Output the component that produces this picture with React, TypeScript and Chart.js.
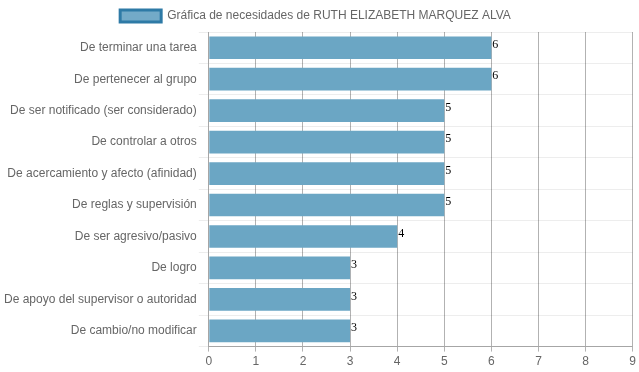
import React, { useEffect, useRef } from "react";
import { Chart, registerables } from "chart.js";

Chart.register(...registerables);

const categories = [
  "De terminar una tarea",
  "De pertenecer al grupo",
  "De ser notificado (ser considerado)",
  "De controlar a otros",
  "De acercamiento y afecto (afinidad)",
  "De reglas y supervisión",
  "De ser agresivo/pasivo",
  "De logro",
  "De apoyo del supervisor o autoridad",
  "De cambio/no modificar",
];
const values = [6, 6, 5, 5, 5, 5, 4, 3, 3, 3];
const seriesLabel = "Gráfica de necesidades de RUTH ELIZABETH MARQUEZ ALVA";
const xMin = 0;
const xMax = 9;

const valueLabels = {
  id: "valueLabels",
  afterDatasetsDraw(chart: any) {
    const ctx = chart.ctx;
    ctx.save();
    ctx.font = "12px 'Liberation Serif', serif";
    ctx.fillStyle = "#000";
    ctx.textAlign = "left";
    ctx.textBaseline = "bottom";
    const meta = chart.getDatasetMeta(0);
    meta.data.forEach((bar: any, i: number) => {
      ctx.fillText(String(chart.data.datasets[0].data[i]), bar.x + 1, bar.y + 3);
    });
    ctx.restore();
  },
};

export default function App() {
  const ref = useRef<HTMLCanvasElement>(null);
  useEffect(() => {
    const chart = new Chart(ref.current!, {
      type: "bar",
      data: {
        labels: categories,
        datasets: [
          {
            label: seriesLabel,
            data: values,
            backgroundColor: "rgb(107,166,196)",
            borderColor: "rgb(46,122,166)",
            borderWidth: 0,
            categoryPercentage: 0.8,
            barPercentage: 0.9,
          },
        ],
      },
      options: {
        indexAxis: "y",
        animation: false,
        responsive: false,
        maintainAspectRatio: false,
        layout: { padding: { left: 2, right: 0, top: 0, bottom: 0 } },
        plugins: {
          tooltip: { enabled: false },
          legend: {
            display: true,
            labels: {
              color: "#666",
              font: { family: "'Liberation Sans', Arial, sans-serif", size: 12 },
              boxWidth: 41,
              boxHeight: 12,
              generateLabels: () => [
                {
                  text: seriesLabel + "   ",
                  fillStyle: "rgb(115,170,200)",
                  strokeStyle: "rgb(46,122,166)",
                  lineWidth: 3,
                  hidden: false,
                  datasetIndex: 0,
                  fontColor: "#666",
                },
              ],
            },
          },
        },
        scales: {
          x: {
            min: xMin,
            max: xMax,
            ticks: {
              stepSize: 1,
              color: "#666",
              font: { family: "'Liberation Sans', Arial, sans-serif", size: 12 },
            },
            grid: {
              color: "rgba(0,0,0,0.3)",
              tickLength: 5,
            },
            border: { color: "rgba(0,0,0,0.3)" },
          },
          y: {
            ticks: {
              color: "#666",
              padding: 2,
              font: { family: "'Liberation Sans', Arial, sans-serif", size: 12 },
            },
            grid: {
              color: "rgba(0,0,0,0.07)",
              offset: true,
              tickLength: 10,
            },
            border: { color: "rgba(0,0,0,0.07)" },
          },
        },
      },
      plugins: [valueLabels],
    });
    return () => chart.destroy();
  }, []);
  return (
    <div style={{ position: "fixed", left: 0, top: 0, width: 639, height: 372 }}>
      <canvas ref={ref} width={639} height={372} style={{ width: 639, height: 372 }} />
    </div>
  );
}
